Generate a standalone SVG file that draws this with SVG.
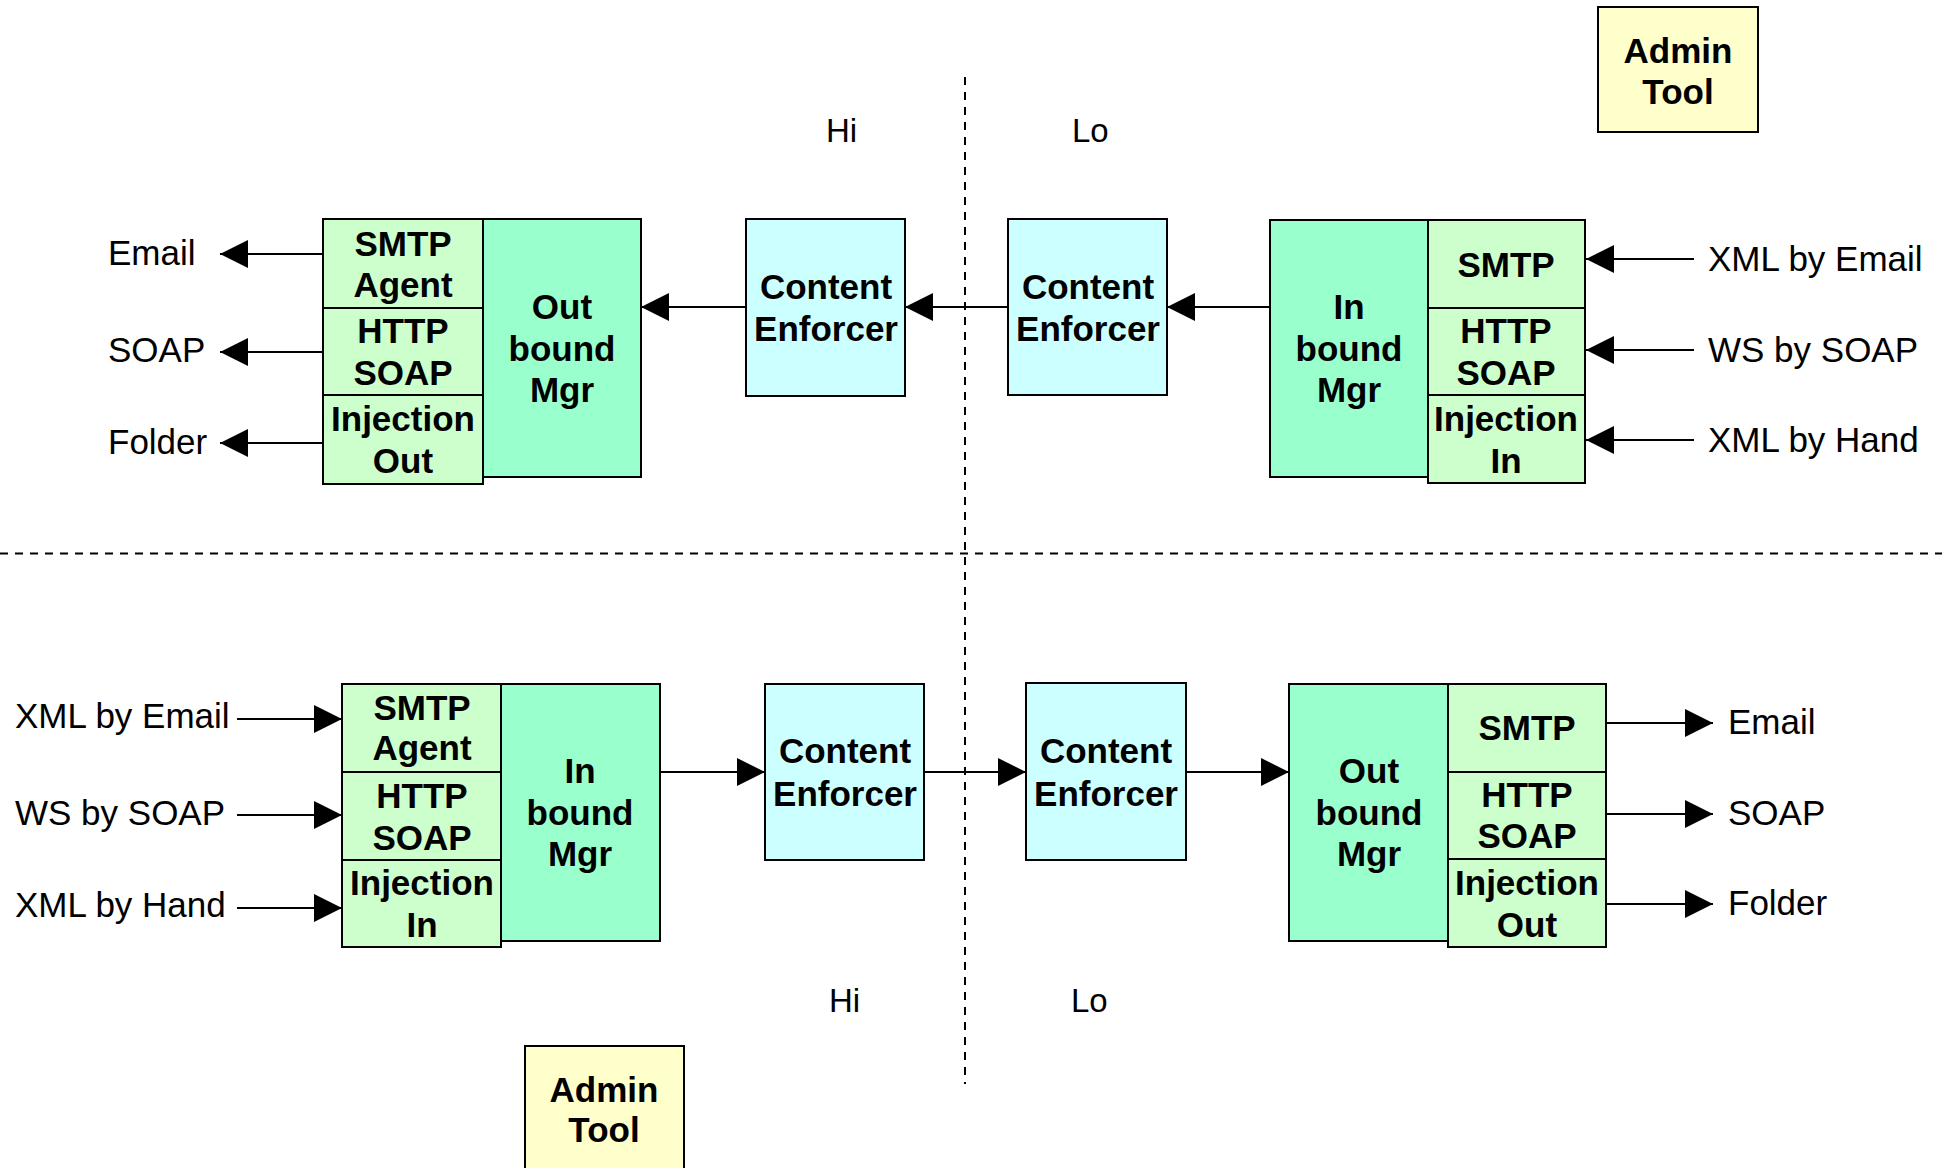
<svg xmlns="http://www.w3.org/2000/svg" width="1942" height="1168" viewBox="0 0 1942 1168">
<defs>
<style>
.st{fill:#CCFFCC;stroke:#000;stroke-width:2}
.mg{fill:#99FFCC;stroke:#000;stroke-width:2}
.ce{fill:#CCFFFF;stroke:#000;stroke-width:2}
.ad{fill:#FFFFCC;stroke:#000;stroke-width:2}
.b{font-family:"Liberation Sans",Arial,sans-serif;font-weight:bold;font-size:35px;text-anchor:middle;fill:#000}
.r{font-family:"Liberation Sans",Arial,sans-serif;font-size:35px;fill:#000}
.hl{font-family:"Liberation Sans",Arial,sans-serif;font-size:33px;fill:#000}
.c{stroke:#000;stroke-width:2;fill:none;marker-end:url(#ah)}
.d{stroke:#000;stroke-width:2;fill:none;stroke-dasharray:8 7}
</style>
<marker id="ah" markerUnits="userSpaceOnUse" markerWidth="28" markerHeight="28" refX="28" refY="14" orient="auto">
<path d="M0,0 L28,14 L0,28 z" fill="#000"/>
</marker>
</defs>
<rect width="1942" height="1168" fill="#fff"/>

<g id="dividers">
<line class="d" x1="965" y1="77" x2="965" y2="1084"/>
<line class="d" x1="0" y1="553.5" x2="1942" y2="553.5"/>
</g>

<g id="labels">
<text class="hl" x="826" y="142">Hi</text>
<text class="hl" x="1072" y="142">Lo</text>
<text class="hl" x="829" y="1012">Hi</text>
<text class="hl" x="1071" y="1012">Lo</text>
<text class="r" x="108" y="265">Email</text>
<text class="r" x="108" y="362">SOAP</text>
<text class="r" x="108" y="454">Folder</text>
<text class="r" x="1708" y="271">XML by Email</text>
<text class="r" x="1708" y="362">WS by SOAP</text>
<text class="r" x="1708" y="452">XML by Hand</text>
<text class="r" x="15" y="728">XML by Email</text>
<text class="r" x="15" y="825">WS by SOAP</text>
<text class="r" x="15" y="917">XML by Hand</text>
<text class="r" x="1728" y="734">Email</text>
<text class="r" x="1728" y="825">SOAP</text>
<text class="r" x="1728" y="915">Folder</text>
</g>

<g id="admin-top">
<rect class="ad" x="1598" y="7" width="160" height="125"/>
<text class="b" x="1678" y="63">Admin</text>
<text class="b" x="1678" y="104">Tool</text>
</g>
<g id="admin-bottom">
<rect class="ad" x="525" y="1046" width="159" height="130"/>
<text class="b" x="604" y="1102">Admin</text>
<text class="b" x="604" y="1142">Tool</text>
</g>

<g id="outbound-hi">
<rect class="mg" x="483" y="219" width="158" height="258"/>
<text class="b" x="562" y="319">Out</text>
<text class="b" x="562" y="361">bound</text>
<text class="b" x="562" y="402">Mgr</text>
</g>
<g id="smtp-agent-out-hi">
<rect class="st" x="323" y="219" width="160" height="89"/>
<text class="b" x="403" y="256">SMTP</text>
<text class="b" x="403" y="297">Agent</text>
</g>
<g id="http-soap-out-hi">
<rect class="st" x="323" y="308" width="160" height="87"/>
<text class="b" x="403" y="343">HTTP</text>
<text class="b" x="403" y="385">SOAP</text>
</g>
<g id="injection-out-hi">
<rect class="st" x="323" y="395" width="160" height="89"/>
<text class="b" x="403" y="431">Injection</text>
<text class="b" x="403" y="473">Out</text>
</g>

<g id="ce-hi-top">
<rect class="ce" x="746" y="219" width="159" height="177"/>
<text class="b" x="826" y="299">Content</text>
<text class="b" x="826" y="341">Enforcer</text>
</g>
<g id="ce-lo-top">
<rect class="ce" x="1008" y="219" width="159" height="176"/>
<text class="b" x="1088" y="299">Content</text>
<text class="b" x="1088" y="341">Enforcer</text>
</g>

<g id="inbound-lo">
<rect class="mg" x="1270" y="220" width="158" height="257"/>
<text class="b" x="1349" y="319">In</text>
<text class="b" x="1349" y="361">bound</text>
<text class="b" x="1349" y="402">Mgr</text>
</g>
<g id="smtp-in-lo">
<rect class="st" x="1428" y="220" width="157" height="88"/>
<text class="b" x="1506" y="277">SMTP</text>
</g>
<g id="http-soap-in-lo">
<rect class="st" x="1428" y="308" width="157" height="87"/>
<text class="b" x="1506" y="343">HTTP</text>
<text class="b" x="1506" y="385">SOAP</text>
</g>
<g id="injection-in-lo">
<rect class="st" x="1428" y="395" width="157" height="88"/>
<text class="b" x="1506" y="431">Injection</text>
<text class="b" x="1506" y="473">In</text>
</g>

<g id="inbound-hi">
<rect class="mg" x="501" y="684" width="159" height="257"/>
<text class="b" x="580" y="783">In</text>
<text class="b" x="580" y="825">bound</text>
<text class="b" x="580" y="866">Mgr</text>
</g>
<g id="smtp-agent-in-hi">
<rect class="st" x="342" y="684" width="159" height="88"/>
<text class="b" x="422" y="720">SMTP</text>
<text class="b" x="422" y="760">Agent</text>
</g>
<g id="http-soap-in-hi">
<rect class="st" x="342" y="772" width="159" height="88"/>
<text class="b" x="422" y="808">HTTP</text>
<text class="b" x="422" y="850">SOAP</text>
</g>
<g id="injection-in-hi">
<rect class="st" x="342" y="860" width="159" height="87"/>
<text class="b" x="422" y="895">Injection</text>
<text class="b" x="422" y="937">In</text>
</g>

<g id="ce-hi-bottom">
<rect class="ce" x="765" y="684" width="159" height="176"/>
<text class="b" x="845" y="763">Content</text>
<text class="b" x="845" y="806">Enforcer</text>
</g>
<g id="ce-lo-bottom">
<rect class="ce" x="1026" y="683" width="160" height="177"/>
<text class="b" x="1106" y="763">Content</text>
<text class="b" x="1106" y="806">Enforcer</text>
</g>

<g id="outbound-lo">
<rect class="mg" x="1289" y="684" width="159" height="257"/>
<text class="b" x="1369" y="783">Out</text>
<text class="b" x="1369" y="825">bound</text>
<text class="b" x="1369" y="866">Mgr</text>
</g>
<g id="smtp-out-lo">
<rect class="st" x="1448" y="684" width="158" height="88"/>
<text class="b" x="1527" y="740">SMTP</text>
</g>
<g id="http-soap-out-lo">
<rect class="st" x="1448" y="772" width="158" height="87"/>
<text class="b" x="1527" y="807">HTTP</text>
<text class="b" x="1527" y="848">SOAP</text>
</g>
<g id="injection-out-lo">
<rect class="st" x="1448" y="859" width="158" height="88"/>
<text class="b" x="1527" y="895">Injection</text>
<text class="b" x="1527" y="937">Out</text>
</g>

<g id="connectors">
<line class="c" x1="323" y1="254" x2="220" y2="254"/>
<line class="c" x1="323" y1="352" x2="220" y2="352"/>
<line class="c" x1="323" y1="443" x2="220" y2="443"/>
<line class="c" x1="746" y1="307" x2="641" y2="307"/>
<line class="c" x1="1008" y1="307" x2="905" y2="307"/>
<line class="c" x1="1270" y1="307" x2="1167" y2="307"/>
<line class="c" x1="1694" y1="259" x2="1586" y2="259"/>
<line class="c" x1="1694" y1="350" x2="1586" y2="350"/>
<line class="c" x1="1694" y1="440" x2="1586" y2="440"/>
<line class="c" x1="237" y1="719" x2="342" y2="719"/>
<line class="c" x1="237" y1="815" x2="342" y2="815"/>
<line class="c" x1="237" y1="908" x2="342" y2="908"/>
<line class="c" x1="660" y1="772" x2="765" y2="772"/>
<line class="c" x1="924" y1="772" x2="1026" y2="772"/>
<line class="c" x1="1186" y1="772" x2="1289" y2="772"/>
<line class="c" x1="1606" y1="723" x2="1713" y2="723"/>
<line class="c" x1="1606" y1="814" x2="1713" y2="814"/>
<line class="c" x1="1606" y1="904" x2="1713" y2="904"/>
</g>
</svg>
